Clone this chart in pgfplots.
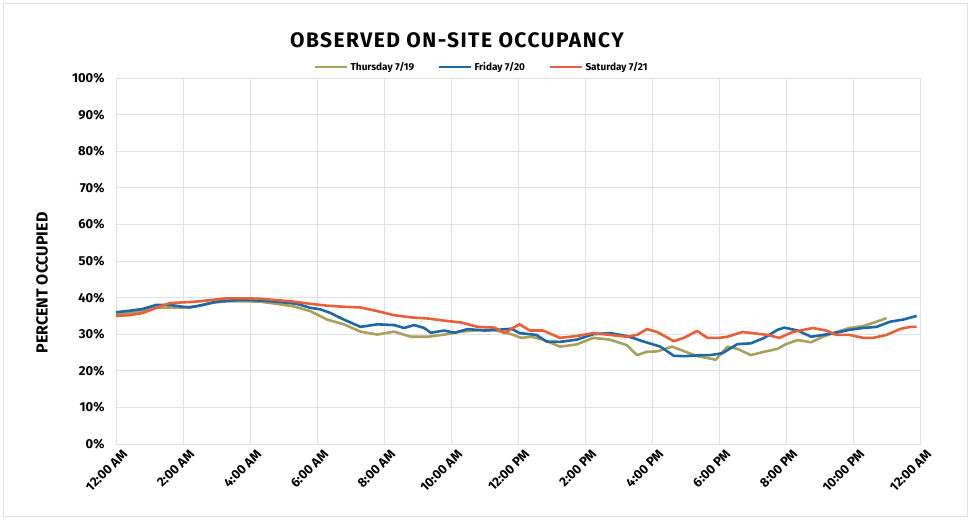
\documentclass[border=0pt]{standalone}
\usepackage{fontspec}
\setmainfont{Fira Sans}
\usepackage{pgfplots}
\pgfplotsset{compat=1.18}
\definecolor{thuColor}{RGB}{168,160,92}
\definecolor{friColor}{RGB}{28,104,168}
\definecolor{satColor}{RGB}{232,96,58}
\definecolor{gridColor}{RGB}{225,225,225}

\begin{document}
\begin{tikzpicture}
\begin{axis}[
    at={(0,0)}, anchor=south west,
    width=804pt, height=366pt, scale only axis,
    xmin=0, xmax=24, ymin=0, ymax=100,
    xtick={0,2,...,24},
    xticklabels={12:00 AM,2:00 AM,4:00 AM,6:00 AM,8:00 AM,10:00 AM,12:00 PM,2:00 PM,4:00 PM,6:00 PM,8:00 PM,10:00 PM,12:00 AM},
    ytick={0,10,...,100},
    yticklabel={\pgfmathprintnumber{\tick}\%},
    /pgf/number format/assume math mode=true,
    major tick length=0pt,
    grid=major, grid style={gridColor, line width=0.8pt},
    axis line style={gridColor, line width=0.8pt},
    tick label style={font=\bfseries\fontsize{13}{13}\selectfont},
    yticklabel style={xshift=-8pt},
    xticklabel style={rotate=45, anchor=north east, xshift=4pt, yshift=-4pt},
    ylabel={PERCENT OCCUPIED},
    ylabel style={font=\bfseries\fontsize{16}{16}\selectfont, at={(axis description cs:-0.092,0.44)}, anchor=center},
    legend columns=3,
    legend style={at={(axis description cs:0.455,1.03)}, anchor=center, draw=none, fill=none,
        font=\bfseries\fontsize{10}{10}\selectfont,
        /tikz/every even column/.append style={column sep=22pt}},
    legend image code/.code={\draw[#1, line width=2.5pt] (0pt,0pt) -- (32pt,0pt);},
    every axis plot/.append style={line width=2.6pt, line join=round},
]
\addplot[thuColor] coordinates {
(0,35.5)(0.4,35.8)(0.8,36.5)(1.2,37.2)(1.6,37.3)(2.0,37.3)(2.4,37.6)(2.8,38.5)(3.3,39)(3.8,39)(4.3,38.9)(4.8,38.3)(5.3,37.6)(5.8,36.3)(6.3,34)(6.8,32.7)(7.3,30.7)(7.8,29.9)(8.3,30.7)(8.8,29.3)(9.3,29.3)(9.8,29.9)(10.3,30.7)(10.8,31.1)(11.3,31.1)(11.8,30)(12.1,29)(12.4,29.3)(12.75,28.5)(13.25,26.6)(13.75,27.2)(14.25,29)(14.75,28.5)(15.25,27)(15.55,24.3)(15.85,25.2)(16.15,25.3)(16.6,26.6)(17.0,25.2)(17.35,24)(17.65,23.5)(17.9,23)(18.25,26.6)(18.55,26)(18.95,24.3)(19.35,25.2)(19.75,26)(20.0,27.3)(20.35,28.4)(20.75,27.8)(21.1,29.3)(21.5,30.6)(21.9,31.7)(22.3,32.2)(22.7,33.4)(23.0,34.4)
};
\addlegendentry{Thursday 7/19}
\addplot[friColor] coordinates {
(0,36)(0.4,36.4)(0.8,36.9)(1.2,38)(1.6,38)(2.0,37.5)(2.2,37.3)(2.6,38)(3.0,38.9)(3.6,39.3)(4.1,39.3)(4.8,38.9)(5.4,38.3)(5.8,37.2)(6.1,36.8)(6.4,35.8)(6.8,34)(7.3,32)(7.8,32.7)(8.3,32.5)(8.6,31.7)(8.9,32.5)(9.2,31.7)(9.4,30.4)(9.8,31)(10.1,30.4)(10.5,31.4)(11.0,31)(11.4,31.2)(11.8,31.5)(12.05,30.3)(12.55,29.8)(12.85,28)(13.25,27.9)(13.75,28.5)(14.25,30)(14.75,30.3)(15.25,29.5)(15.75,28)(16.25,26.6)(16.65,24.1)(17.0,24)(17.5,24.3)(17.75,24.3)(18.1,24.8)(18.55,27.3)(18.95,27.5)(19.35,29)(19.75,31.2)(19.95,31.8)(20.35,31)(20.75,29.3)(21.1,29.8)(21.6,30.6)(21.9,31.2)(22.3,31.7)(22.7,32)(23.1,33.4)(23.5,34)(23.9,35)
};
\addlegendentry{Friday 7/20}
\addplot[satColor] coordinates {
(0,35)(0.4,35.2)(0.8,35.8)(1.2,37.2)(1.6,38.5)(2.0,38.7)(2.4,38.9)(2.8,39.3)(3.3,39.8)(3.8,39.8)(4.3,39.7)(4.8,39.3)(5.3,38.9)(5.8,38.3)(6.3,37.8)(6.8,37.5)(7.3,37.3)(7.8,36.3)(8.3,35.2)(8.8,34.6)(9.3,34.3)(9.8,33.7)(10.3,33.2)(10.8,32)(11.3,31.8)(11.6,30.3)(11.9,32)(12.05,32.7)(12.35,31)(12.75,31)(13.25,29)(13.75,29.5)(14.25,30.3)(14.75,29.8)(15.25,29.3)(15.55,29.8)(15.85,31.4)(16.15,30.6)(16.65,28.1)(16.95,29)(17.35,30.9)(17.65,29)(18.0,29)(18.25,29.3)(18.7,30.6)(19.0,30.3)(19.45,29.8)(19.8,29)(20.2,30.6)(20.8,31.7)(21.2,31)(21.5,29.8)(21.9,29.8)(22.3,29)(22.6,29)(23.0,29.8)(23.4,31.4)(23.7,32)(23.9,32)
};
\addlegendentry{Saturday 7/21}
\end{axis}
\node[font=\bfseries\fontsize{21}{21}\selectfont\addfontfeature{LetterSpace=7}] at (341pt,404pt) {OBSERVED ON-SITE OCCUPANCY};
\pgfresetboundingbox
\draw[gridColor, line width=1pt] (-112pt,-72pt) rectangle (851pt,440pt);
\path[use as bounding box] (-116pt,-76pt) rectangle (855pt,444pt);
\end{tikzpicture}
\end{document}
